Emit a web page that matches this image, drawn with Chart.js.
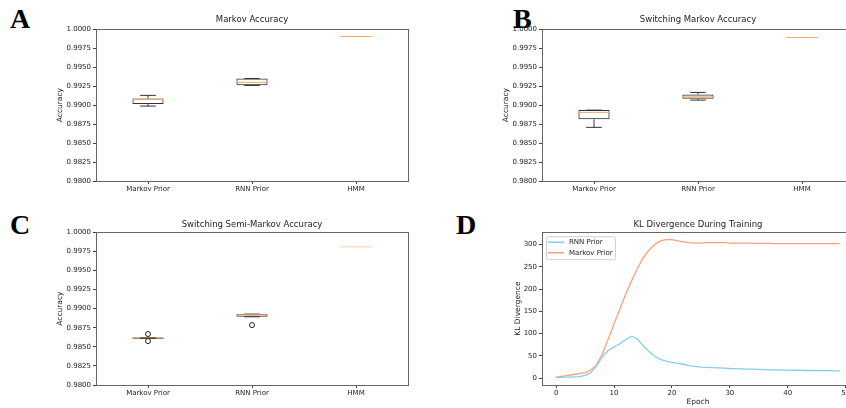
<!DOCTYPE html>
<html>
<head>
<meta charset="utf-8">
<script src="https://cdn.jsdelivr.net/npm/chart.js@4.4.0/dist/chart.umd.min.js"></script>
<style>
  html, body { margin: 0; padding: 0; background: #fff; overflow: hidden; width: 846px; height: 408px; position: relative; }
  canvas { position: absolute; }
  .letter { position: absolute; font: bold 28px "Liberation Serif"; line-height: 28px; color: #000; }
</style>
</head>
<body>
<div class="letter" style="left:10px;top:5px">A</div>
<div class="letter" style="left:513px;top:5px">B</div>
<div class="letter" style="left:10px;top:211px">C</div>
<div class="letter" style="left:456px;top:211px">D</div>
<canvas id="chartA" width="420" height="204" style="left:0;top:0"></canvas>
<canvas id="chartB" width="426" height="204" style="left:440px;top:0"></canvas>
<canvas id="chartC" width="420" height="204" style="left:0;top:204px"></canvas>
<canvas id="chartD" width="426" height="204" style="left:440px;top:204px"></canvas>
<script>
// ---- data ----
const categories = ['Markov Prior', 'RNN Prior', 'HMM'];
const accTicks = [0.98, 1.0, 0.0025]; // min, max, step

// A: Markov Accuracy
const markovLow  = [0.98987, 0.99259, 0.99904];
const markovQ1   = [0.99013, 0.99263, 0.99904];
const markovMed  = [0.99075, 0.99299, 0.99904];
const markovQ3   = [0.99088, 0.99351, 0.99904];
const markovHigh = [0.99128, 0.99351, 0.99904];
const markovFliers = [[], [], []];

// B: Switching Markov Accuracy
const switchLow  = [0.98707, 0.99066, 0.99891];
const switchQ1   = [0.98812, 0.99083, 0.99891];
const switchMed  = [0.98904, 0.99109, 0.99891];
const switchQ3   = [0.98934, 0.99141, 0.99891];
const switchHigh = [0.98934, 0.99167, 0.99891];
const switchFliers = [[], [], []];

// C: Switching Semi-Markov Accuracy
const semiLow  = [0.98609, 0.98893, 0.99808];
const semiQ1   = [0.98609, 0.98893, 0.99808];
const semiMed  = [0.98614, 0.98920, 0.99808];
const semiQ3   = [0.98616, 0.98928, 0.99808];
const semiHigh = [0.98616, 0.98928, 0.99808];
const semiFliers = [[0.98667, 0.98575], [0.98784], []];

// D: KL divergence during training
const epochs = [0,1,2,3,4,5,6,7,8,9,10,11,12,13,14,15,16,17,18,19,20,21,22,23,24,25,26,27,28,29,
                30,31,32,33,34,35,36,37,38,39,40,41,42,43,44,45,46,47,48,49];
const rnnKL = [1,2,2,2.5,3,6,12,28,48,62,70,77,86,94,88,73,60,49,42,38,35,33,31,28,26,24.5,24,23.5,23,22.5,
               21.5,21,20.5,20,20,19.5,19,18.5,18.5,18,18,17.5,17.5,17,17,17,16.5,16.5,16,16];
const markovKL = [2,4,6,8,10,12,18,30,55,88,122,155,188,218,245,270,287,300,308,311,311,308,306,304,303,303,304,304,304,304,
                  303,303,303,303,302.5,302.5,302.5,302.5,302,302,302,302,302,302,302,302,302,302,302,302];
const klXTicks = [-2.45, 51.45, 10];
const klYTicks = [-15.6, 327.6, 50];

// ---- helpers ----
const FONT = 'DejaVu Sans';
const TXT = '#222';

const framePlugin = {
  id: 'frame',
  afterDatasetsDraw(chart) {
    const a = chart.chartArea, ctx = chart.ctx;
    ctx.save();
    ctx.strokeStyle = '#666';
    ctx.lineWidth = 1;
    ctx.strokeRect(Math.round(a.left) + 0.5, Math.round(a.top) + 0.5,
                   Math.round(a.right - a.left), Math.round(a.bottom - a.top));
    ctx.restore();
  }
};

function whiskerPlugin(low, q1, med, q3, high, medColors) {
  return {
    id: 'whiskers',
    afterDatasetsDraw(chart) {
      const ctx = chart.ctx, xs = chart.scales.x, ys = chart.scales.y;
      const half = (chart.chartArea.right - chart.chartArea.left) / categories.length * 0.3 / 2;
      ctx.save();
      ctx.lineWidth = 1;
      for (let i = 0; i < categories.length; i++) {
        const x = xs.getPixelForValue(i);
        const yl = ys.getPixelForValue(low[i]), y1 = ys.getPixelForValue(q1[i]);
        const y3 = ys.getPixelForValue(q3[i]), yh = ys.getPixelForValue(high[i]);
        const ym = ys.getPixelForValue(med[i]);
        if (high[i] > low[i]) {
          ctx.strokeStyle = '#333';
          ctx.beginPath();
          ctx.moveTo(x, y3); ctx.lineTo(x, yh);
          ctx.moveTo(x, y1); ctx.lineTo(x, yl);
          ctx.moveTo(x - half / 2, yh); ctx.lineTo(x + half / 2, yh);
          ctx.moveTo(x - half / 2, yl); ctx.lineTo(x + half / 2, yl);
          ctx.stroke();
        }
        ctx.strokeStyle = medColors[i];
        ctx.beginPath();
        ctx.moveTo(x - half, ym); ctx.lineTo(x + half, ym);
        ctx.stroke();
      }
      ctx.restore();
    }
  };
}

function boxChart(id, title, low, q1, med, q3, high, fliers, medColors, lay) {
  const flierPts = [];
  fliers.forEach((arr, i) => arr.forEach(v => flierPts.push({ x: categories[i], y: v })));
  return new Chart(document.getElementById(id), {
    type: 'bar',
    data: {
      labels: categories,
      datasets: [
        {
          type: 'bar',
          data: q1.map((v, i) => [v, q3[i]]),
          backgroundColor: 'rgba(0,0,0,0)',
          borderColor: '#333',
          borderWidth: 1,
          borderSkipped: false,
          categoryPercentage: 1,
          barPercentage: 0.3
        },
        {
          type: 'line',
          data: flierPts,
          showLine: false,
          pointStyle: 'circle',
          pointRadius: 2.5,
          pointBorderWidth: 1,
          pointBorderColor: '#222',
          pointBackgroundColor: 'rgba(0,0,0,0)'
        }
      ]
    },
    options: {
      responsive: false,
      animation: false,
      layout: { padding: { left: lay.padLeft, right: 12, top: 0, bottom: 0 } },
      plugins: {
        legend: { display: false },
        tooltip: { enabled: false },
        title: {
          display: true, text: title, color: TXT, fullSize: false,
          font: { family: FONT, size: 8.5, weight: 'normal' },
          padding: { top: lay.titleTop, bottom: lay.titleBottom }
        }
      },
      scales: {
        x: {
          afterFit: s => { s.height = 23; },
          grid: { display: true, drawOnChartArea: false, drawTicks: true, tickLength: 3, offset: false, color: '#444' },
          border: { display: false },
          ticks: { color: TXT, font: { family: FONT, size: 7 }, padding: 1 }
        },
        y: {
          min: accTicks[0], max: accTicks[1],
          afterFit: s => { s.width = lay.yWidth; },
          grid: { display: true, drawOnChartArea: false, drawTicks: true, tickLength: 3, color: '#444' },
          border: { display: false },
          ticks: { stepSize: accTicks[2], color: TXT, font: { family: FONT, size: 7 }, padding: 2,
                   callback: v => v.toFixed(4) },
          title: { display: true, text: 'Accuracy', color: TXT, padding: 0,
                   font: { family: FONT, size: 7.5 } }
        }
      }
    },
    plugins: [framePlugin, whiskerPlugin(low, q1, med, q3, high, medColors)]
  });
}

const MED = '#f7a65e';

boxChart('chartA', 'Markov Accuracy', markovLow, markovQ1, markovMed, markovQ3, markovHigh, markovFliers,
  [MED, MED, MED], { padLeft: 56, yWidth: 40, titleTop: 15, titleBottom: 4 });
boxChart('chartB', 'Switching Markov Accuracy', switchLow, switchQ1, switchMed, switchQ3, switchHigh, switchFliers,
  [MED, MED, '#f5a866'], { padLeft: 61.5, yWidth: 40.5, titleTop: 15, titleBottom: 4 });
boxChart('chartC', 'Switching Semi-Markov Accuracy', semiLow, semiQ1, semiMed, semiQ3, semiHigh, semiFliers,
  ['#8a4a10', '#f7a65e', '#fdcfa2'], { padLeft: 56, yWidth: 40, titleTop: 16, titleBottom: 2 });

// legend drawn inside the plot, upper left
const innerLegend = {
  id: 'innerLegend',
  afterDraw(chart) {
    const ctx = chart.ctx, a = chart.chartArea;
    const x0 = a.left + 4, y0 = a.top + 4, w = 69, h = 23;
    ctx.save();
    ctx.fillStyle = 'rgba(255,255,255,0.85)';
    ctx.strokeStyle = '#d0d0d0';
    ctx.lineWidth = 1;
    ctx.beginPath();
    ctx.roundRect(x0 + 0.5, y0 + 0.5, w, h, 2);
    ctx.fill(); ctx.stroke();
    ctx.font = '7px "' + FONT + '"';
    ctx.textBaseline = 'middle';
    chart.data.datasets.forEach((ds, i) => {
      const y = y0 + 6 + i * 10.5;
      ctx.strokeStyle = ds.borderColor;
      ctx.lineWidth = 1.5;
      ctx.beginPath();
      ctx.moveTo(x0 + 2, y); ctx.lineTo(x0 + 18, y);
      ctx.stroke();
      ctx.fillStyle = TXT;
      ctx.fillText(ds.label, x0 + 23, y);
    });
    ctx.restore();
  }
};

new Chart(document.getElementById('chartD'), {
  type: 'line',
  data: {
    datasets: [
      { label: 'RNN Prior', data: epochs.map((e, i) => ({ x: e, y: rnnKL[i] })),
        borderColor: '#87ceeb', borderWidth: 1.3, pointRadius: 0, tension: 0 },
      { label: 'Markov Prior', data: epochs.map((e, i) => ({ x: e, y: markovKL[i] })),
        borderColor: '#ffa07a', borderWidth: 1.3, pointRadius: 0, tension: 0 }
    ]
  },
  options: {
    responsive: false,
    animation: false,
    layout: { padding: { left: 73.2, right: 12, top: 0, bottom: 0 } },
    plugins: {
      legend: { display: false },
      tooltip: { enabled: false },
      title: {
        display: true, text: 'KL Divergence During Training', color: TXT, fullSize: false,
        font: { family: FONT, size: 8.5, weight: 'normal' },
        padding: { top: 16, bottom: 2 }
      }
    },
    scales: {
      x: {
        type: 'linear', min: klXTicks[0], max: klXTicks[1],
        afterFit: s => { s.height = 23; },
        grid: { display: true, drawOnChartArea: false, drawTicks: true, tickLength: 3, color: '#444' },
        border: { display: false },
        ticks: { stepSize: klXTicks[2], includeBounds: false, color: TXT, font: { family: FONT, size: 7 }, padding: 1 },
        title: { display: true, text: 'Epoch', color: TXT, padding: { top: 0, bottom: 1.5 },
                 font: { family: FONT, size: 7.5 } }
      },
      y: {
        min: klYTicks[0], max: klYTicks[1],
        afterFit: s => { s.width = 28.8; },
        grid: { display: true, drawOnChartArea: false, drawTicks: true, tickLength: 3, color: '#444' },
        border: { display: false },
        ticks: { stepSize: klYTicks[2], includeBounds: false, color: TXT, font: { family: FONT, size: 7 }, padding: 2 },
        title: { display: true, text: 'KL Divergence', color: TXT, padding: 0,
                 font: { family: FONT, size: 7.5 } }
      }
    }
  },
  plugins: [framePlugin, innerLegend]
});
</script>
</body>
</html>
